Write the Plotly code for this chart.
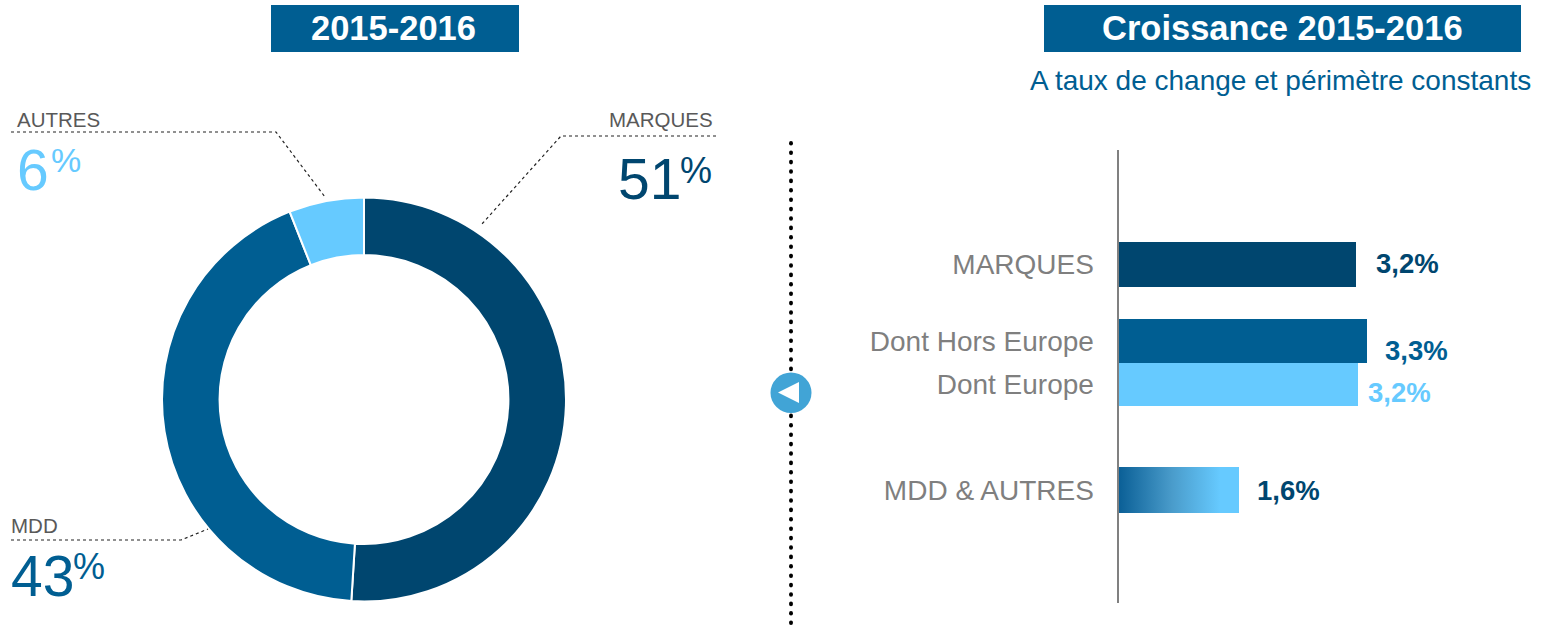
import plotly.graph_objects as go

W, H = 1551, 625

# --- data
share_labels = ["MARQUES", "MDD", "AUTRES"]
share_values = [51, 43, 6]
growth_labels = ["MARQUES", "Dont Hors Europe", "Dont Europe", "MDD & AUTRES"]
growth_values = [3.17, 3.31, 3.2, 1.6]
growth_text = ["3,2%", "3,3%", "3,2%", "1,6%"]

# --- styles and layout constants
DARK, MID, LIGHT = "#00466F", "#005E92", "#66CAFF"
FONT = "Liberation Sans"
share_colors = [DARK, MID, LIGHT]
bar_colors = [DARK, MID, LIGHT, LIGHT]
text_colors = [DARK, MID, LIGHT, DARK]
rows = [114.5, 191, 234.5, 340]
bar_widths = [45, 44, 43, 46]
text_dx = [18, 17, 8, 17]
text_dy = [1, -9, -8, 0]

def px(x): return x / W
def py(y): return 1 - y / H

fig = go.Figure()

fig.add_trace(go.Pie(
    labels=share_labels, values=share_values, sort=False, direction="clockwise",
    rotation=0, hole=0.715, textinfo="none", showlegend=False,
    marker=dict(colors=share_colors, line=dict(color="white", width=2)),
    domain=dict(x=[px(162), px(566)], y=[py(602.5), py(196.5)]),
))

fig.add_trace(go.Bar(
    x=growth_values, y=rows, width=bar_widths, orientation="h",
    marker=dict(color=bar_colors, line=dict(width=0)), showlegend=False,
    xaxis="x", yaxis="y",
))

# gradient overlay for the last bar, built from its value
v, r, w = growth_values[3], rows[3], bar_widths[3]
fig.add_trace(go.Scatter(
    x=[0, v, v, 0, 0], y=[r - w / 2, r - w / 2, r + w / 2, r + w / 2, r - w / 2],
    mode="lines", line=dict(width=0), fill="toself", hoverinfo="skip", showlegend=False,
    fillgradient=dict(type="horizontal",
                      colorscale=[[0, "#0A5F96"], [0.45, "#4A9CCB"], [0.85, LIGHT], [1, LIGHT]]),
    xaxis="x", yaxis="y",
))

shapes, annotations = [], []

def rect(x0, y0, x1, y1, color):
    shapes.append(dict(type="rect", xref="paper", yref="paper", x0=px(x0), x1=px(x1),
                       y0=py(y0), y1=py(y1), fillcolor=color, line=dict(width=0)))

def text(x, y, s, size, color, anchor="left", bold=False):
    annotations.append(dict(xref="paper", yref="paper", x=px(x), y=py(y), text=f"<b>{s}</b>" if bold else s,
                            showarrow=False, xanchor=anchor, yanchor="middle",
                            font=dict(family=FONT, size=size, color=color),
                            borderpad=0, borderwidth=0))

def leader(points):
    path = "M " + " L ".join(f"{px(x)},{py(y)}" for x, y in points)
    shapes.append(dict(type="path", xref="paper", yref="paper", path=path,
                       line=dict(color="#222222", width=1.2, dash="dot")))

# title boxes
rect(271, 5, 519, 52, MID)
rect(1044, 5, 1521, 52, MID)
text(393.5, 28.5, "2015-2016", 34.5, "white", "center", True)
text(1282, 28.5, "Croissance 2015-2016", 34.5, "white", "center", True)
text(1531, 81, "A taux de change et périmètre constants", 28, MID, "right")

# leaders
leader([(11, 132), (276, 132), (325, 197)])
leader([(716, 136), (561, 136), (481, 225)])
leader([(11, 540), (181, 540), (208, 529)])

# donut labels
text(17, 119, "AUTRES", 20.5, "#595959")
text(713, 120, "MARQUES", 20.5, "#595959", "right")
text(11, 525.5, "MDD", 20.5, "#595959")
text(17, 170, "6", 57, LIGHT)
text(51, 160, "%", 34, LIGHT)
text(617.5, 179, "51", 57, DARK)
text(680, 170, "%", 36, DARK)
text(10.5, 576, "43", 57, MID)
text(73, 566, "%", 36, MID)

# vertical dotted divider
y = 143.3
while y < 624:
    shapes.append(dict(type="circle", xref="paper", yref="paper",
                       x0=px(789), x1=px(793), y0=py(y + 2.3), y1=py(y - 2.3),
                       fillcolor="black", line=dict(width=0)))
    y += 9.4

# arrow badge
shapes.append(dict(type="circle", xref="paper", yref="paper", x0=px(770.5), x1=px(811.5),
                   y0=py(413), y1=py(372.5), fillcolor="#41A4D6", line=dict(width=0)))
shapes.append(dict(type="path", xref="paper", yref="paper",
                   path=f"M {px(778)},{py(392.5)} L {px(799)},{py(382)} L {px(799)},{py(403)} Z",
                   fillcolor="white", line=dict(width=0)))

# bar value labels
for val, row, s, c, dx, dy in zip(growth_values, rows, growth_text, text_colors, text_dx, text_dy):
    annotations.append(dict(xref="x", yref="y", x=val, y=row, text=f"<b>{s}</b>", showarrow=False,
                            xanchor="left", yanchor="middle", xshift=dx, yshift=dy,
                            font=dict(family=FONT, size=27.5, color=c)))

fig.update_layout(
    width=W, height=H, autosize=False, margin=dict(l=0, r=0, t=0, b=0),
    paper_bgcolor="white", plot_bgcolor="rgba(0,0,0,0)",
    shapes=shapes, annotations=annotations, bargap=0,
    xaxis=dict(domain=[px(1118.5), px(1518.5)], range=[0, 400 / 74.8], visible=False, fixedrange=True),
    yaxis=dict(domain=[py(603), py(150)], range=[453, 0], showline=True, linecolor="#808080", linewidth=2,
               zeroline=False, showgrid=False, tickmode="array", tickvals=rows, ticktext=growth_labels,
               ticks="outside", ticklen=17, tickcolor="rgba(0,0,0,0)",
               tickfont=dict(family=FONT, size=28, color="#7F7F7F"), fixedrange=True),
)

fig.write_html("out.html", config={"displayModeBar": False},
               post_script="document.body.style.margin='0';document.documentElement.style.overflow='hidden';")
